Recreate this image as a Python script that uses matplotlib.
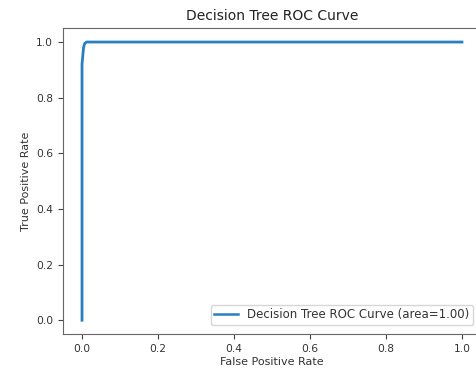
import numpy as np
import matplotlib
matplotlib.use("Agg")
import matplotlib.pyplot as plt

# ROC points
fpr = [0.0, 0.0, 0.002, 0.004, 0.007, 0.012, 1.0]
tpr = [0.0, 0.92, 0.95, 0.98, 0.995, 1.0, 1.0]
roc_auc = 1.00

ticks = [0.0, 0.2, 0.4, 0.6, 0.8, 1.0]

fig = plt.figure(figsize=(4.76, 3.70), dpi=100)
ax = fig.add_axes([0.1324, 0.097, 0.878, 0.827])

ax.plot(fpr, tpr, color="#2a7fc0", lw=2,
        label="Decision Tree ROC Curve (area=%0.2f)" % roc_auc)

ax.set_xlim(-0.05, 1.05)
ax.set_ylim(-0.05, 1.05)
ax.set_xticks(ticks)
ax.set_yticks(ticks)
ax.tick_params(labelsize=7.7, colors="#444444", labelcolor="#333333")
for s in ax.spines.values():
    s.set_color("#666666")

ax.set_xlabel("False Positive Rate", fontsize=8, color="#333333", labelpad=2)
ax.set_ylabel("True Positive Rate", fontsize=8, color="#333333")
ax.set_title("Decision Tree ROC Curve", fontsize=10, color="#222222")
leg = ax.legend(loc="lower right", fontsize=8.5, borderpad=0.3,
                bbox_to_anchor=(473 / 476, 45 / 370),
                bbox_transform=fig.transFigure, borderaxespad=0,
                labelcolor="#333333")
for h in leg.get_lines():
    h.set_linewidth(1.8)

fig.savefig("out.png", dpi=100)
